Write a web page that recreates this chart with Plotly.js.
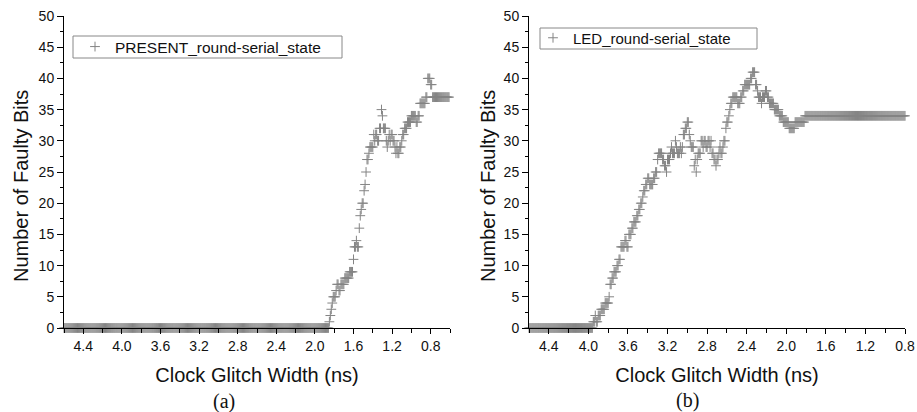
<!DOCTYPE html>
<html><head><meta charset="utf-8">
<script src="https://cdn.plot.ly/plotly-3.0.1.min.js"></script>
<style>html,body{margin:0;padding:0;background:#fff}#chart{width:917px;height:412px}</style>
</head><body><div id="chart"></div>
<script>
// Glitch-width sweep: first width (ns) and sweep step (ns)
const sweepStartNs = 4.60;
const sweepStepNs = 0.01;

// (a) PRESENT_round-serial_state — faulty bits, from 4.60 ns downward
const presentFaultyBits = [
  0,0,0,0,0,0,0,0,0,0,0,0,0,0,0,0,0,0,0,0,0,0,0,0,0,
  0,0,0,0,0,0,0,0,0,0,0,0,0,0,0,0,0,0,0,0,0,0,0,0,0,
  0,0,0,0,0,0,0,0,0,0,0,0,0,0,0,0,0,0,0,0,0,0,0,0,0,
  0,0,0,0,0,0,0,0,0,0,0,0,0,0,0,0,0,0,0,0,0,0,0,0,0,
  0,0,0,0,0,0,0,0,0,0,0,0,0,0,0,0,0,0,0,0,0,0,0,0,0,
  0,0,0,0,0,0,0,0,0,0,0,0,0,0,0,0,0,0,0,0,0,0,0,0,0,
  0,0,0,0,0,0,0,0,0,0,0,0,0,0,0,0,0,0,0,0,0,0,0,0,0,
  0,0,0,0,0,0,0,0,0,0,0,0,0,0,0,0,0,0,0,0,0,0,0,0,0,
  0,0,0,0,0,0,0,0,0,0,0,0,0,0,0,0,0,0,0,0,0,0,0,0,0,
  0,0,0,0,0,0,0,0,0,0,0,0,0,0,0,0,0,0,0,0,0,0,0,0,0,
  0,0,0,0,0,0,0,0,0,0,0,0,0,0,0,0,0,0,0,0,0,0,0,0,0,
  1,2,3,4,5,5,5,6,7,7,
  6,6,7,7,7,7,8,8,8,8,
  8,9,9,9,9,11,13,13,14,13,
  13,16,18,19,20,20,22,23,25,27,
  27,28,29,29,29,29,31,30,31,31,
  30,30,32,32,35,34,32,32,32,30,
  29,30,31,30,31,31,30,30,29,28,
  29,28,28,29,29,30,31,31,32,32,
  32,33,33,33,33,34,34,34,34,34,
  33,33,34,34,36,36,36,36,36,36,
  37,37,40,40,40,39,39,37,37,37,
  37,37,37,37,37,37,37,37,37,37,
  37,37,37,37,37
];

// (b) LED_round-serial_state — faulty bits, from 4.60 ns downward
const ledFaultyBits = [
  0,0,0,0,0,0,0,0,0,0,0,0,0,0,0,0,0,0,0,0,0,0,0,0,0,
  0,0,0,0,0,0,0,0,0,0,0,0,0,0,0,0,0,0,0,0,0,0,0,0,0,
  0,0,0,0,0,0,0,0,0,0,0,0,0,0,0,
  1,1,2,1,1,2,2,2,3,3,
  3,3,4,4,4,4,5,7,7,8,
  8,9,9,9,10,10,11,11,13,13,
  13,13,14,14,13,13,15,15,15,16,
  16,17,17,17,18,18,19,19,20,20,
  21,22,22,23,23,24,24,23,23,23,
  23,24,24,25,25,27,28,28,28,28,
  27,27,26,26,25,27,27,27,28,29,
  28,28,28,30,29,28,28,28,29,28,
  29,31,31,32,32,33,33,31,30,29,
  29,29,26,27,25,27,28,28,28,30,
  30,29,30,30,29,29,30,30,29,30,
  28,28,27,27,26,27,27,28,29,28,
  28,29,30,30,32,33,33,34,35,36,
  36,37,37,37,37,37,36,36,36,37,
  37,38,38,39,39,39,39,39,39,40,
  40,41,41,41,39,39,38,37,37,37,
  36,37,37,37,38,38,37,37,36,36,
  36,36,36,35,35,35,35,35,34,34,
  34,34,33,33,33,33,33,33,32,32,
  32,32,32,32,33,33,33,33,33,33,
  33,33,33,33,
  34,34,34,34,34,34,34,34,34,34,34,34,34,34,34,34,34,34,34,34,34,34,34,34,34,
  34,34,34,34,34,34,34,34,34,34,34,34,34,34,34,34,34,34,34,34,34,34,34,34,34,
  34,34,34,34,34,34,34,34,34,34,34,34,34,34,34,34,34,34,34,34,34,34,34,34,34,
  34,34,34,34,34,34,34,34,34,34,34,34,34,34,34,34,34,34,34,34,34,34,34,34,34,
  34,34
];

const seriesNames = ['PRESENT_round-serial_state', 'LED_round-serial_state'];
const xMajorTicks = [4.4, 4.0, 3.6, 3.2, 2.8, 2.4, 2.0, 1.6, 1.2, 0.8];
const xTickLabels = ['4.4','4.0','3.6','3.2','2.8','2.4','2.0','1.6','1.2','0.8'];
const xMinorTicks = [4.6, 4.2, 3.8, 3.4, 3.0, 2.6, 2.2, 1.8, 1.4, 1.0, 0.6];
const yMajorTicks = [0, 5, 10, 15, 20, 25, 30, 35, 40, 45, 50];
const xTitle = 'Clock Glitch Width (ns)';
const yTitle = 'Number of Faulty Bits';
const captions = ['(a)', '(b)'];

function sweepWidths(n) {
  const out = [];
  for (let i = 0; i < n; i++) out.push(+(sweepStartNs - i * sweepStepNs).toFixed(2));
  return out;
}

const W = 917, H = 412;
const markerStyle = {symbol: 'cross-thin-open', size: 7, color: '#848484', line: {color: '#848484', width: 1}};

const traces = [
  {x: sweepWidths(presentFaultyBits.length), y: presentFaultyBits, name: seriesNames[0],
   type: 'scatter', mode: 'markers', marker: markerStyle, xaxis: 'x', yaxis: 'y',
   cliponaxis: false, legend: 'legend', showlegend: true},
  {x: sweepWidths(ledFaultyBits.length), y: ledFaultyBits, name: seriesNames[1],
   type: 'scatter', mode: 'markers', marker: markerStyle, xaxis: 'x2', yaxis: 'y2',
   cliponaxis: false, legend: 'legend2', showlegend: true}
];

const tickFont = {family: 'Liberation Sans, Arial, sans-serif', size: 14, color: '#111'};
const titleFont = {family: 'Liberation Sans, Arial, sans-serif', size: 20, color: '#111'};

function xAxis(domain, range, anchor) {
  return {
    domain: domain, range: range, anchor: anchor,
    tickmode: 'array', tickvals: xMajorTicks, ticktext: xTickLabels,
    ticks: 'outside', ticklen: 5, tickwidth: 1, tickcolor: '#000',
    minor: {tickmode: 'array', tickvals: xMinorTicks, ticks: 'outside', ticklen: 4, tickwidth: 1, tickcolor: '#000', showgrid: false},
    showline: true, linecolor: '#000', linewidth: 1, mirror: false,
    showgrid: false, zeroline: false, tickfont: tickFont,
    title: {text: xTitle, font: titleFont, standoff: 15}
  };
}
function yAxis(domain, anchor) {
  return {
    domain: domain, range: [0, 50], anchor: anchor,
    tickmode: 'array', tickvals: yMajorTicks,
    ticks: 'outside', ticklen: 6, tickwidth: 1, tickcolor: '#000',
    minor: {dtick: 2.5, tick0: 0, ticks: 'outside', ticklen: 3, tickwidth: 1, tickcolor: '#000', showgrid: false},
    showline: true, linecolor: '#000', linewidth: 1,
    showgrid: false, zeroline: false, tickfont: tickFont
  };
}

const yDom = [1 - 328 / H, 1 - 16 / H];
const legendBase = {xanchor: 'left', yanchor: 'middle', borderwidth: 0, bgcolor: 'rgba(0,0,0,0)'};
const layout = {
  width: W, height: H,
  margin: {l: 0, r: 0, t: 0, b: 0},
  paper_bgcolor: '#fff', plot_bgcolor: '#fff',
  xaxis: xAxis([64 / W, 450 / W], [4.6, 0.6], 'y'),
  yaxis: yAxis(yDom, 'x'),
  xaxis2: xAxis([529 / W, 905 / W], [4.6, 0.8], 'y2'),
  yaxis2: yAxis(yDom, 'x2'),
  legend: Object.assign({}, legendBase, {x: 75 / W, y: 1 - 47 / H,
    font: {family: 'Liberation Sans, Arial, sans-serif', size: 15.5, color: '#111'}}),
  legend2: Object.assign({}, legendBase, {x: 533 / W, y: 1 - 38 / H,
    font: {family: 'Liberation Sans, Arial, sans-serif', size: 15, color: '#111'}}),
  shapes: [
    {type: 'rect', xref: 'paper', yref: 'paper', x0: 73 / W, x1: 342 / W, y0: 1 - 58 / H, y1: 1 - 36 / H,
     line: {color: '#888', width: 1}, fillcolor: 'rgba(0,0,0,0)', layer: 'below'},
    {type: 'rect', xref: 'paper', yref: 'paper', x0: 540 / W, x1: 757 / W, y0: 1 - 49 / H, y1: 1 - 28 / H,
     line: {color: '#888', width: 1}, fillcolor: 'rgba(0,0,0,0)', layer: 'below'}
  ],
  annotations: [
    {text: yTitle, xref: 'paper', yref: 'paper', x: 21 / W, y: 1 - 186 / H, textangle: -90,
     showarrow: false, xanchor: 'center', yanchor: 'middle', font: titleFont},
    {text: yTitle, xref: 'paper', yref: 'paper', x: 488 / W, y: 1 - 186 / H, textangle: -90,
     showarrow: false, xanchor: 'center', yanchor: 'middle', font: titleFont},
    {text: captions[0], xref: 'paper', yref: 'paper', x: 224 / W, y: 1 - 401 / H,
     showarrow: false, xanchor: 'center', yanchor: 'middle',
     font: {family: 'Liberation Serif, DejaVu Serif, serif', size: 20, color: '#111'}},
    {text: captions[1], xref: 'paper', yref: 'paper', x: 687 / W, y: 1 - 400 / H,
     showarrow: false, xanchor: 'center', yanchor: 'middle',
     font: {family: 'Liberation Serif, DejaVu Serif, serif', size: 20, color: '#111'}}
  ]
};

Plotly.newPlot('chart', traces, layout, {staticPlot: true, displayModeBar: false});
</script>
</body></html>
